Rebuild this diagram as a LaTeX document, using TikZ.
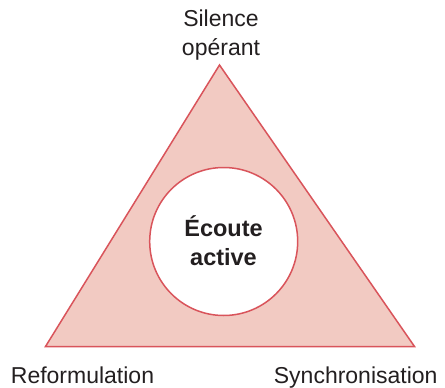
\documentclass[tikz,border=0pt]{standalone}
\usepackage{fontspec}
\setmainfont{Liberation Sans}
\definecolor{trifill}{HTML}{F2CAC2}
\definecolor{tristroke}{HTML}{D9545B}
\definecolor{txt}{HTML}{231F20}
\begin{document}
\begin{tikzpicture}[x=1pt,y=-1pt,
  lbl/.style={text=txt,font=\fontsize{23}{28.5}\selectfont,align=center,inner sep=0pt,anchor=base},
  mainlbl/.style={lbl,font=\fontsize{23.5}{29}\selectfont\bfseries}]
\useasboundingbox (0,0) rectangle (445,388);
\coordinate (top) at (219.5,65);
\coordinate (bl) at (45.5,346.5);
\coordinate (br) at (414.5,346.5);
\draw[fill=trifill,draw=tristroke,line width=1.5pt,line join=miter] (top) -- (bl) -- (br) -- cycle;
\node[circle,fill=white,draw=tristroke,line width=1.5pt,minimum size=148pt,inner sep=0pt] (c) at (223.7,241.5) {};
\node[mainlbl] (ec) at (223.5,265) {Écoute\\active};
\node[lbl] (sil) at (221,55) {Silence\\opérant};
\node[lbl] (ref) at (82.5,383.3) {Reformulation};
\node[lbl] (syn) at (355.7,383.3) {Synchronisation};
\end{tikzpicture}
\end{document}
